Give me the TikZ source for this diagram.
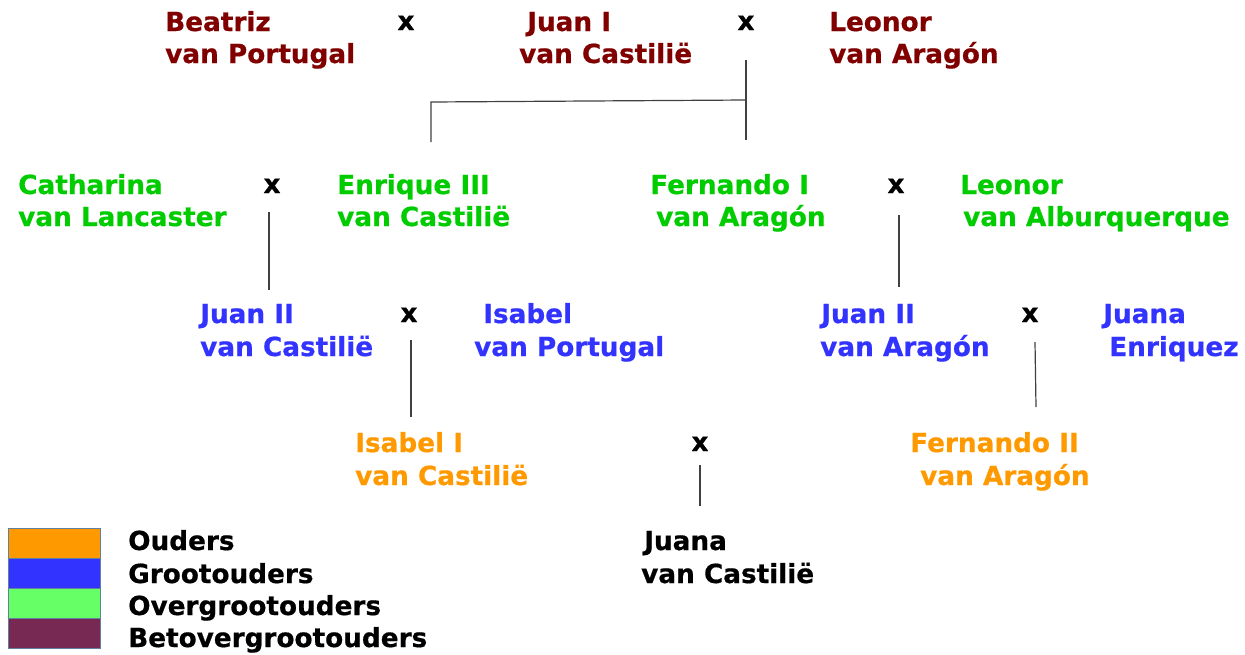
\documentclass[tikz,border=0pt]{standalone}
\usepackage{fontspec}
\setmainfont{DejaVu Sans}[BoldFeatures={FakeBold=0.6}]
\definecolor{rood}{HTML}{800000}
\definecolor{groen}{HTML}{00CC00}
\definecolor{blauw}{HTML}{3333FF}
\definecolor{oranje}{HTML}{FF9900}
\definecolor{lgroen}{HTML}{66FF66}
\definecolor{paars}{HTML}{772953}
\definecolor{rand}{HTML}{6080A0}
\tikzset{
  nm/.style={anchor=base west, inner sep=0pt, font=\fontsize{26.3}{30}\selectfont\bfseries},
  mx/.style={anchor=base, inner sep=0pt, font=\fontsize{26.3}{30}\selectfont\bfseries, text=black},
  ln/.style={draw=black!75, line width=1.2pt},
  lg/.style={draw=rand, line width=0.6pt}
}
\begin{document}
\begin{tikzpicture}[x=1pt,y=-1pt]
\useasboundingbox (0,0) rectangle (1245,654);
% row 1
\node[nm,text=rood] (b1) at (165,31) {Beatriz};
\node[nm,text=rood] (b2) at (165,63) {van Portugal};
\node[mx] (x1) at (406,30) {x};
\node[nm,text=rood] (j1) at (527,31) {Juan I};
\node[nm,text=rood] (j2) at (519,63) {van Castilië};
\node[mx] (x2) at (746,30) {x};
\node[nm,text=rood] (l1) at (829,31) {Leonor};
\node[nm,text=rood] (l2) at (829,63) {van Aragón};
% row 2
\node[nm,text=groen] (c1) at (18,194) {Catharina};
\node[nm,text=groen] (c2) at (18,226) {van Lancaster};
\node[mx] (x3) at (272,193) {x};
\node[nm,text=groen] (e1) at (337,194) {Enrique III};
\node[nm,text=groen] (e2) at (337,226) {van Castilië};
\node[nm,text=groen] (f1) at (650,194) {Fernando I};
\node[nm,text=groen] (f2) at (656,226) {van Aragón};
\node[mx] (x4) at (896,193) {x};
\node[nm,text=groen] (lo1) at (960,194) {Leonor};
\node[nm,text=groen] (lo2) at (963,226) {van Alburquerque};
% row 3
\node[nm,text=blauw] (jc1) at (200,323) {Juan II};
\node[nm,text=blauw] (jc2) at (200,356) {van Castilië};
\node[mx] (x5) at (409,322) {x};
\node[nm,text=blauw] (ip1) at (483,323) {Isabel};
\node[nm,text=blauw] (ip2) at (474,356) {van Portugal};
\node[nm,text=blauw] (ja1) at (821,323) {Juan II};
\node[nm,text=blauw] (ja2) at (820,356) {van Aragón};
\node[mx] (x6) at (1030,322) {x};
\node[nm,text=blauw] (je1) at (1103,323) {Juana};
\node[nm,text=blauw] (je2) at (1109,356) {Enriquez};
% row 4
\node[nm,text=oranje] (ic1) at (355,452) {Isabel I};
\node[nm,text=oranje] (ic2) at (355,485) {van Castilië};
\node[mx] (x7) at (700,451) {x};
\node[nm,text=oranje] (fa1) at (910,452) {Fernando II};
\node[nm,text=oranje] (fa2) at (920,485) {van Aragón};
% row 5
\node[nm,text=black] (jv1) at (644,550) {Juana};
\node[nm,text=black] (jv2) at (641,583) {van Castilië};
% connectors
\coordinate (p1) at (746,60);
\coordinate (p2) at (746,140);
\coordinate (p3) at (746,100);
\coordinate (p4) at (431,102);
\coordinate (p5) at (431,142);
\draw[ln] (p1) -- (p2);
\draw[ln] (p3) -- (p4) -- (p5);
\coordinate (q1) at (269,212);
\coordinate (q2) at (269,290);
\draw[ln] (q1) -- (q2);
\coordinate (q3) at (899,215);
\coordinate (q4) at (899,287);
\draw[ln] (q3) -- (q4);
\coordinate (r1) at (411,340);
\coordinate (r2) at (411,417);
\draw[ln] (r1) -- (r2);
\coordinate (r3) at (1035,342);
\coordinate (r4) at (1036,407);
\draw[ln] (r3) -- (r4);
\coordinate (s1) at (700,465);
\coordinate (s2) at (700,506);
\draw[ln] (s1) -- (s2);
% legend
\filldraw[lg,fill=oranje] (8,528) rectangle (100,558);
\filldraw[lg,fill=blauw] (8,558) rectangle (100,588);
\filldraw[lg,fill=lgroen] (8,588) rectangle (100,618);
\filldraw[lg,fill=paars] (8,618) rectangle (100,648);
\node[nm,text=black] (k1) at (128,550) {Ouders};
\node[nm,text=black] (k2) at (128,583) {Grootouders};
\node[nm,text=black] (k3) at (128,615) {Overgrootouders};
\node[nm,text=black] (k4) at (128,647) {Betovergrootouders};
\end{tikzpicture}
\end{document}
